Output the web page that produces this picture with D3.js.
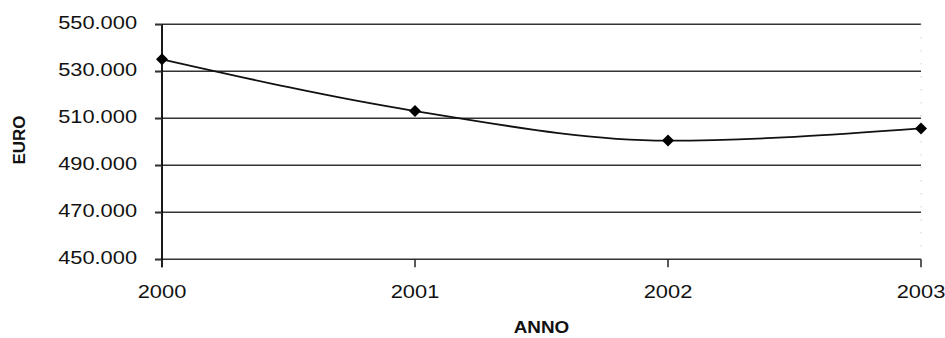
<!DOCTYPE html>
<html>
<head>
<meta charset="utf-8">
<script src="https://cdn.jsdelivr.net/npm/d3@7"></script>
<style>
  html, body { margin: 0; padding: 0; background: #fff; }
  svg { display: block; }
  text { font-family: "Liberation Sans", Arial, sans-serif; fill: #111; }
</style>
</head>
<body>
<svg id="chart" width="945" height="338"></svg>
<script>
// Yearly amounts (thousand euro)
const years = [2000, 2001, 2002, 2003];
const values = [535.1, 513.1, 500.5, 505.7];
const yTicks = [450, 470, 490, 510, 530, 550];
const yTickLabels = ["450.000", "470.000", "490.000", "510.000", "530.000", "550.000"];
const xTitle = "ANNO";
const yTitle = "EURO";

const svg = d3.select("#chart");
const plot = { left: 162, right: 921, top: 24.3, bottom: 259.3 };
const stretch = 1.18; // wide glyphs of the original print

const x = d3.scaleLinear().domain([2000, 2003]).range([plot.left, plot.right]);
const y = d3.scaleLinear().domain([450, 550]).range([plot.bottom, plot.top]);

// horizontal gridlines
svg.append("g")
  .selectAll("line")
  .data(yTicks)
  .join("line")
  .attr("x1", plot.left - 7)
  .attr("x2", plot.right)
  .attr("y1", d => y(d))
  .attr("y2", d => y(d))
  .attr("stroke", "#333")
  .attr("stroke-width", 1.5);

// faint right border of the plot area
svg.append("line")
  .attr("x1", plot.right).attr("x2", plot.right)
  .attr("y1", plot.top).attr("y2", plot.bottom)
  .attr("stroke", "#bbb")
  .attr("stroke-width", 1)
  .attr("stroke-dasharray", "1,12");

// y axis
const yAxis = svg.append("g")
  .attr("transform", `translate(${plot.left},0)`)
  .call(d3.axisLeft(y).tickValues(yTicks).tickSize(7)
    .tickFormat((d, i) => yTickLabels[i]));
yAxis.select(".domain").attr("stroke", "#000").attr("stroke-width", 1.8)
  .attr("d", `M0,${plot.top}V${plot.bottom + 8}`);
yAxis.selectAll(".tick line").attr("stroke", "#333").attr("stroke-width", 1.5);
yAxis.selectAll(".tick text")
  .attr("x", -25 / stretch)
  .attr("dy", "4px")
  .attr("transform", `scale(${stretch},1)`)
  .style("font-size", "18.5px")
  .style("font-family", "'Liberation Sans', Arial, sans-serif")
  .attr("fill", "#111");

// x axis
const xAxis = svg.append("g")
  .attr("transform", `translate(0,${plot.bottom})`)
  .call(d3.axisBottom(x).tickValues(years).tickSize(8).tickFormat(d3.format("d")));
xAxis.select(".domain").remove();
xAxis.selectAll(".tick line").attr("stroke", "#222").attr("stroke-width", 1.5);
xAxis.selectAll(".tick text")
  .attr("y", 38.7)
  .attr("dy", 0)
  .attr("transform", `scale(${stretch},1)`)
  .attr("x", 0)
  .style("font-size", "18.5px")
  .style("font-family", "'Liberation Sans', Arial, sans-serif")
  .attr("fill", "#111");
// keep each scaled label centred on its tick
xAxis.selectAll(".tick").each(function (d) {
  d3.select(this).attr("transform", `translate(${x(d)},0)`);
});

// data line
const line = d3.line()
  .x((d, i) => x(years[i]))
  .y(d => y(d))
  .curve(d3.curveMonotoneX);
svg.append("path")
  .datum(values)
  .attr("d", line)
  .attr("fill", "none")
  .attr("stroke", "#111")
  .attr("stroke-width", 1.8);

// diamond markers
svg.append("g")
  .selectAll("path")
  .data(values)
  .join("path")
  .attr("d", d3.symbol(d3.symbolSquare, 72))
  .attr("transform", (d, i) => `translate(${x(years[i])},${y(d)}) rotate(45)`)
  .attr("fill", "#000");

// axis titles
svg.append("text")
  .attr("transform", `translate(${(plot.left + plot.right) / 2},333) scale(${stretch},1)`)
  .attr("text-anchor", "middle")
  .style("font-size", "16px")
  .style("font-weight", "bold")
  .text(xTitle);

svg.append("text")
  .attr("transform", "translate(25,140) rotate(-90)")
  .attr("text-anchor", "middle")
  .style("font-size", "17px")
  .style("font-weight", "bold")
  .text(yTitle);
</script>
</body>
</html>
